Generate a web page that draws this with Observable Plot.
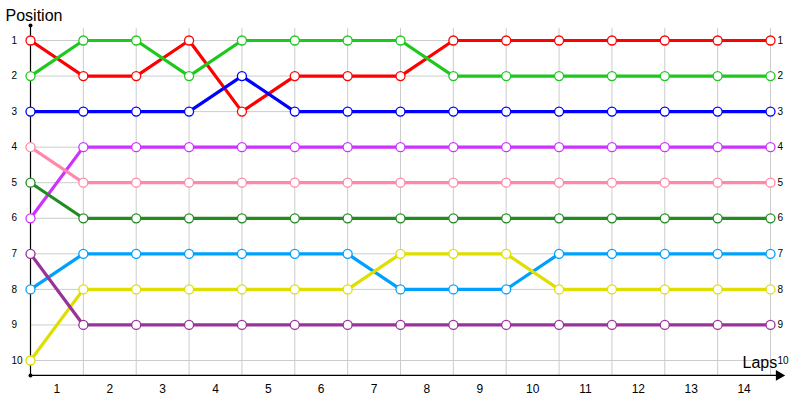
<!DOCTYPE html>
<html>
<head>
<meta charset="utf-8">
<script src="https://cdn.jsdelivr.net/npm/d3@7"></script>
<script src="https://cdn.jsdelivr.net/npm/@observablehq/plot@0.6"></script>
<style>
  html, body { margin: 0; padding: 0; background: #fff; }
  #chart svg { display: block; }
</style>
</head>
<body>
<div id="chart"></div>
<script>
// Lap boundaries (x positions of the points) and lap labels
const lapIndex = [0, 1, 2, 3, 4, 5, 6, 7, 8, 9, 10, 11, 12, 13, 14];
const lapLabels = [1, 2, 3, 4, 5, 6, 7, 8, 9, 10, 11, 12, 13, 14];
const positions = [1, 2, 3, 4, 5, 6, 7, 8, 9, 10];

// Series (position at each lap boundary)
const drivers = ["Driver A", "Driver B", "Driver C", "Driver D", "Driver E", "Driver F", "Driver G", "Driver H", "Driver I"];
const redPos       = [1, 2, 2, 1, 3, 2, 2, 2, 1, 1, 1, 1, 1, 1, 1];
const greenPos     = [2, 1, 1, 2, 1, 1, 1, 1, 2, 2, 2, 2, 2, 2, 2];
const bluePos      = [3, 3, 3, 3, 2, 3, 3, 3, 3, 3, 3, 3, 3, 3, 3];
const magentaPos   = [6, 4, 4, 4, 4, 4, 4, 4, 4, 4, 4, 4, 4, 4, 4];
const pinkPos      = [4, 5, 5, 5, 5, 5, 5, 5, 5, 5, 5, 5, 5, 5, 5];
const darkgreenPos = [5, 6, 6, 6, 6, 6, 6, 6, 6, 6, 6, 6, 6, 6, 6];
const lightbluePos = [8, 7, 7, 7, 7, 7, 7, 8, 8, 8, 7, 7, 7, 7, 7];
const yellowPos    = [10, 8, 8, 8, 8, 8, 8, 7, 7, 7, 8, 8, 8, 8, 8];
const purplePos    = [7, 9, 9, 9, 9, 9, 9, 9, 9, 9, 9, 9, 9, 9, 9];
const colors = ["#ff0000", "#1ec81e", "#0000ff", "#cc33ff", "#ff88aa", "#228b22", "#00a0ff", "#dede00", "#993399"];

const seriesValues = [redPos, greenPos, bluePos, magentaPos, pinkPos, darkgreenPos, lightbluePos, yellowPos, purplePos];
const rows = [];
drivers.forEach((d, k) => {
  seriesValues[k].forEach((p, i) => rows.push({driver: d, lap: lapIndex[i], pos: p}));
});

const yTop = 0.58, yBottom = 10.42, gridTop = 0.66, xEnd = 14.22;

const chart = Plot.plot({
  width: 800,
  height: 400,
  marginTop: 0, marginBottom: 0, marginLeft: 0, marginRight: 0,
  x: {domain: [0, 14], range: [30, 770], axis: null},
  y: {domain: [1, 10], range: [40, 360], axis: null},
  color: {type: "ordinal", domain: drivers, range: colors},
  style: {fontFamily: "'Liberation Sans', Arial, sans-serif", background: "#fff"},
  marks: [
    Plot.ruleY(positions, {y: d => d, x1: 0, x2: 14, stroke: "#cccccc", strokeWidth: 1}),
    Plot.ruleX(lapIndex, {x: d => d, y1: gridTop, y2: yBottom, stroke: "#cccccc", strokeWidth: 1}),
    Plot.ruleX([0], {x: d => d, y1: yTop, y2: yBottom, stroke: "#000", strokeWidth: 1.2}),
    Plot.ruleY([yBottom], {y: d => d, x1: 0, x2: xEnd - 0.1, stroke: "#000", strokeWidth: 1.2}),
    Plot.dot([xEnd], {x: d => d - 0.06, y: yBottom, symbol: "triangle", rotate: 90, r: 4, fill: "#000", stroke: "none"}),
    Plot.dot([yTop, yBottom], {x: 0, y: d => d, r: 2, fill: "#000", stroke: "none"}),
    Plot.line(rows, {x: "lap", y: "pos", z: "driver", stroke: "driver", strokeWidth: 3.2, curve: "linear"}),
    Plot.dot(rows, {x: "lap", y: "pos", stroke: "driver", fill: "#fff", r: 4.5, strokeWidth: 1.3}),
    Plot.text(positions, {x: 0, y: d => d, text: d => String(d), dx: -19, textAnchor: "start", fontSize: 10, fill: "#000"}),
    Plot.text(positions, {x: 14, y: d => d, text: d => String(d), dx: 7, textAnchor: "start", fontSize: 10, fill: "#000"}),
    Plot.text(lapLabels, {x: d => d - 0.5, y: yBottom, text: d => String(d), dy: 14, fontSize: 12, fill: "#000"}),
    Plot.text(["Position"], {x: 0, y: yTop, text: d => d, dx: -25, dy: -10, textAnchor: "start", fontSize: 16, fill: "#000"}),
    Plot.text(["Laps"], {x: 14, y: yBottom, text: d => d, dx: -28, dy: -13, textAnchor: "start", fontSize: 16, fill: "#000"})
  ]
});
document.getElementById("chart").appendChild(chart);
</script>
</body>
</html>
